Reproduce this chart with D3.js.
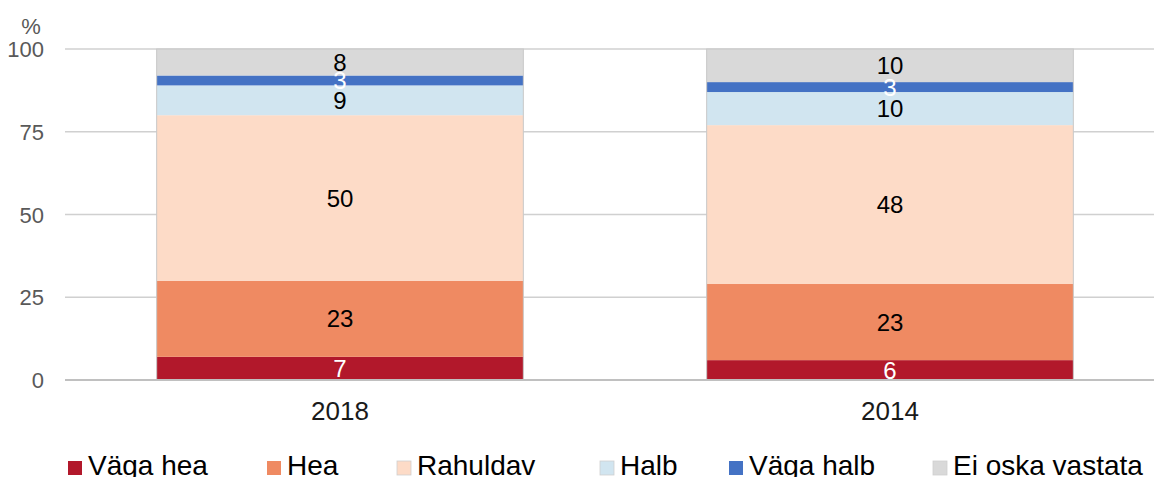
<!DOCTYPE html>
<html>
<head>
<meta charset="utf-8">
<script src="https://cdn.jsdelivr.net/npm/d3@7"></script>
<style>
  html, body { margin: 0; padding: 0; background: #fff; }
  svg { display: block; font-family: "Liberation Sans", Arial, sans-serif; }
</style>
</head>
<body>
<svg id="chart" width="1154" height="477"></svg>
<script>
const categories = ["2018", "2014"];
const seriesNames = ["Väga hea", "Hea", "Rahuldav", "Halb", "Väga halb", "Ei oska vastata"];
const seriesColors = ["#B2182B", "#EF8A62", "#FDDBC7", "#D1E5F0", "#4472C4", "#D9D9D9"];
const labelColors = ["#ffffff", "#000000", "#000000", "#000000", "#ffffff", "#000000"];
const values2018 = [7, 23, 50, 9, 3, 8];
const values2014 = [6, 23, 48, 10, 3, 10];
const yTicks = [0, 25, 50, 75, 100];
const yUnit = "%";

const seriesValues = [values2018, values2014];
const svg = d3.select("#chart");

const x = d3.scaleBand().domain(categories).range([65, 1165])
  .paddingInner(1/3).paddingOuter(1/6);
const y = d3.scaleLinear().domain([0, 100]).range([380, 49]);

// gridlines
svg.append("g").selectAll("line").data(yTicks.filter(d => d !== 0)).join("line")
  .attr("x1", 65).attr("x2", 1154)
  .attr("y1", d => y(d)).attr("y2", d => y(d))
  .attr("stroke", "#d0d0d0").attr("stroke-width", 1.5);

// y axis labels
const yAxis = d3.axisLeft(y).tickValues(yTicks).tickSize(0).tickPadding(0);
const yg = svg.append("g").attr("transform", "translate(44,0)").call(yAxis);
yg.select(".domain").remove();
yg.selectAll("text").attr("font-size", 22).attr("fill", "#595959")
  .attr("font-family", "Liberation Sans, Arial, sans-serif").attr("dy", "0.35em");

svg.append("text").attr("x", 31).attr("y", 34).attr("text-anchor", "middle")
  .attr("font-size", 22).attr("fill", "#595959").text(yUnit);

// stacked bars
const stackData = categories.map((c, i) => {
  const o = { cat: c };
  seriesNames.forEach((s, j) => o[s] = seriesValues[i][j]);
  return o;
});
const stacked = d3.stack().keys(seriesNames)(stackData);

const groups = svg.append("g").selectAll("g").data(stacked).join("g")
  .attr("fill", (d, i) => seriesColors[i]);
groups.selectAll("rect").data(d => d).join("rect")
  .attr("x", d => x(d.data.cat))
  .attr("width", x.bandwidth())
  .attr("y", d => y(d[1]))
  .attr("height", d => y(d[0]) - y(d[1]));

// bar outline
svg.append("g").selectAll("rect").data(categories).join("rect")
  .attr("x", d => x(d)).attr("width", x.bandwidth())
  .attr("y", y(100)).attr("height", y(0) - y(100))
  .attr("fill", "none").attr("stroke", "#c8c8c8").attr("stroke-width", 1);

// data labels
stacked.forEach((layer, i) => {
  svg.append("g").selectAll("text").data(layer).join("text")
    .attr("x", d => x(d.data.cat) + x.bandwidth() / 2)
    .attr("y", d => (y(d[0]) + y(d[1])) / 2)
    .attr("dy", "0.36em")
    .attr("text-anchor", "middle")
    .attr("font-size", 24)
    .attr("fill", labelColors[i])
    .text(d => d[1] - d[0]);
});

// x axis
svg.append("line").attr("x1", 65).attr("x2", 1154)
  .attr("y1", y(0)).attr("y2", y(0))
  .attr("stroke", "#c0c0c0").attr("stroke-width", 2);

const xAxis = d3.axisBottom(x).tickSize(0).tickPadding(0);
const xg = svg.append("g").attr("transform", "translate(0,420)").call(xAxis);
xg.select(".domain").remove();
xg.selectAll("text").attr("font-size", 26).attr("fill", "#1a1a1a")
  .attr("font-family", "Liberation Sans, Arial, sans-serif").attr("dy", 0);

// legend
const legendX = [68, 267, 397, 600, 729, 933];
const lg = svg.append("g").selectAll("g").data(seriesNames).join("g")
  .attr("transform", (d, i) => `translate(${legendX[i]},0)`);
lg.append("rect").attr("x", 0).attr("y", 461).attr("width", 14).attr("height", 14)
  .attr("fill", (d, i) => seriesColors[i])
  .attr("stroke", (d, i) => (i === 2 || i === 3 || i === 5) ? "#cfcfcf" : "none")
  .attr("stroke-width", 0.8);
lg.append("text").attr("x", 20).attr("y", 475).attr("font-size", 28)
  .attr("fill", "#000").text(d => d);
</script>
</body>
</html>
